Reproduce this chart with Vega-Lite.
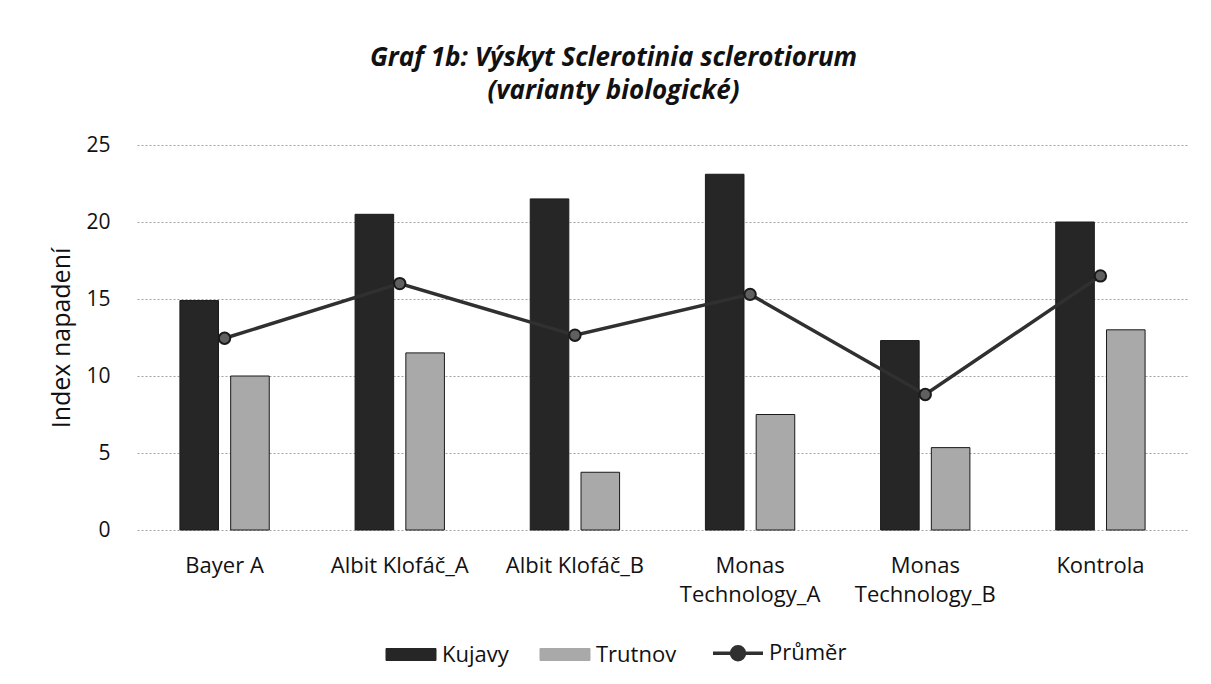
{
  "$schema": "https://vega.github.io/schema/vega-lite/v6.json",
  "width": 1051,
  "height": 385,
  "autosize": {"type": "none"},
  "padding": {"left": 137, "top": 145, "right": 23, "bottom": 154},
  "background": "white",
  "title": {
    "text": ["Graf 1b: Výskyt Sclerotinia sclerotiorum", "(varianty  biologické)"],
    "font": "Open Sans", "fontSize": 26, "fontWeight": "bold", "fontStyle": "italic",
    "color": "#111", "anchor": "middle", "dx": -49, "offset": 30, "lineHeight": 33
  },
  "data": {
    "values": [
      {"cat": "Bayer A", "series": "Kujavy", "value": 14.9},
      {"cat": "Bayer A", "series": "Trutnov", "value": 10.0},
      {"cat": "Bayer A", "series": "Průměr", "value": 12.45},
      {"cat": "Albit Klofáč_A", "series": "Kujavy", "value": 20.5},
      {"cat": "Albit Klofáč_A", "series": "Trutnov", "value": 11.5},
      {"cat": "Albit Klofáč_A", "series": "Průměr", "value": 16.0},
      {"cat": "Albit Klofáč_B", "series": "Kujavy", "value": 21.5},
      {"cat": "Albit Klofáč_B", "series": "Trutnov", "value": 3.75},
      {"cat": "Albit Klofáč_B", "series": "Průměr", "value": 12.65},
      {"cat": "Monas Technology_A", "series": "Kujavy", "value": 23.1},
      {"cat": "Monas Technology_A", "series": "Trutnov", "value": 7.5},
      {"cat": "Monas Technology_A", "series": "Průměr", "value": 15.3},
      {"cat": "Monas Technology_B", "series": "Kujavy", "value": 12.3},
      {"cat": "Monas Technology_B", "series": "Trutnov", "value": 5.35},
      {"cat": "Monas Technology_B", "series": "Průměr", "value": 8.8},
      {"cat": "Kontrola", "series": "Kujavy", "value": 20.0},
      {"cat": "Kontrola", "series": "Trutnov", "value": 13.0},
      {"cat": "Kontrola", "series": "Průměr", "value": 16.5}
    ]
  },
  "encoding": {
    "x": {
      "field": "cat", "type": "nominal",
      "sort": ["Bayer A", "Albit Klofáč_A", "Albit Klofáč_B", "Monas Technology_A", "Monas Technology_B", "Kontrola"],
      "scale": {"paddingInner": 0.49, "paddingOuter": 0.245},
      "axis": {
        "title": null, "labelAngle": 0, "labelFont": "Open Sans", "labelFontSize": 22, "labelColor": "#111",
        "labelPadding": 25, "labelLineHeight": 29, "ticks": false, "domain": false, "grid": false,
        "labelExpr": "indexof(datum.label, 'Monas') === 0 ? split(datum.label, ' ') : datum.label"
      }
    },
    "y": {
      "field": "value", "type": "quantitative",
      "scale": {"domain": [0, 25], "nice": false},
      "axis": {
        "title": "Index napadení", "titleFont": "Open Sans", "titleFontSize": 25, "titleFontWeight": "normal",
        "titleColor": "#111", "titlePadding": 11,
        "values": [0, 5, 10, 15, 20, 25], "labelFont": "Open Sans", "labelFontSize": 21, "labelColor": "#111",
        "labelPadding": 27, "ticks": false, "domain": false,
        "grid": true, "gridColor": "#a0a0a0", "gridDash": [2, 2], "gridWidth": 1
      }
    },
    "color": {
      "field": "series", "type": "nominal",
      "scale": {"domain": ["Kujavy", "Trutnov", "Průměr"], "range": ["#262626", "#a9a9a9", "#303030"]},
      "legend": {
        "orient": "none", "legendX": 263, "legendY": 497, "title": null, "direction": "horizontal",
        "labelFont": "Open Sans", "labelFontSize": 22, "labelColor": "#111",
        "symbolSize": 2500, "columnPadding": 29, "labelOffset": 20,
        "encode": {
          "symbols": {
            "update": {
              "shape": {"signal": "datum.value === 'Průměr' ? 'M-1,0H-0.26M0.26,0H1M0.26,0A0.26,0.26 0 1,1 -0.26,0A0.26,0.26 0 1,1 0.26,0Z' : 'M-1,-0.24H1V0.24H-1Z'"},
              "fill": {"signal": "datum.value === 'Kujavy' ? '#262626' : datum.value === 'Trutnov' ? '#a9a9a9' : '#606060'"},
              "stroke": {"signal": "datum.value === 'Trutnov' ? '#a9a9a9' : '#222222'"},
              "strokeWidth": {"signal": "datum.value === 'Průměr' ? 3.5 : 1"},
              "opacity": {"value": 1},
              "fillOpacity": {"value": 1},
              "strokeOpacity": {"value": 1}
            }
          }
        }
      }
    }
  },
  "layer": [
    {
      "transform": [{"filter": "datum.series !== 'Průměr'"}],
      "mark": {"type": "bar", "stroke": "#1a1a1a", "strokeWidth": 1},
      "encoding": {
        "xOffset": {"field": "series", "type": "nominal", "sort": ["Kujavy", "Trutnov"], "scale": {"paddingInner": 0.24, "paddingOuter": 0}}
      }
    },
    {
      "transform": [{"filter": "datum.series === 'Průměr'"}],
      "mark": {"type": "line", "strokeWidth": 3.5, "point": {"filled": true, "size": 130, "fill": "#606060", "stroke": "#1a1a1a", "strokeWidth": 2}},
      "encoding": {}
    }
  ],
  "config": {"view": {"stroke": null}}
}
